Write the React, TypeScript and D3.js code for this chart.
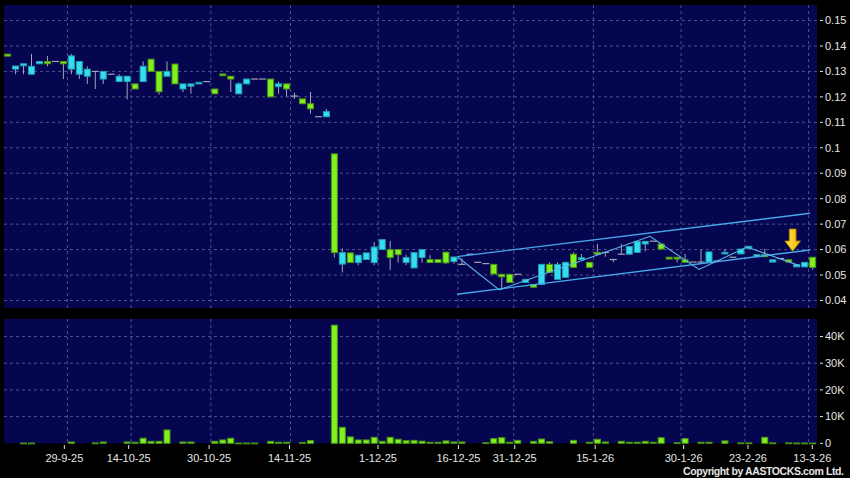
import React from 'react';
import * as d3 from 'd3';

const W = 850;
const H = 478;

// One entry per plotted session (slot 0..101)
const opens = [
  0.1368, 0.1309, 0.1322, 0.1289, 0.133, 0.1339, 0.1339, 0.1339, 0.1309, 0.1289,
  0.1281, 0.13, 0.127, 0.1289, 0.126, 0.126, 0.1251, 0.126, 0.1348, 0.13,
  0.1281, 0.1329, 0.1231, 0.1242, 0.1251, 0.126, 0.1231, 0.129, 0.1281, 0.1212,
  0.1251, 0.127, 0.127, 0.127, 0.124, 0.1251, 0.1203, 0.1192, 0.1173, 0.1122,
  0.1122, 0.0976, 0.0543, 0.0587, 0.0549, 0.0561, 0.0549, 0.06, 0.06, 0.06,
  0.0549, 0.0528, 0.0569, 0.0561, 0.0561, 0.059, 0.0553, 0.0542, 0.0582, 0.055,
  0.0545, 0.0542, 0.0503, 0.0503, 0.0503, 0.0471, 0.0463, 0.0463, 0.0542, 0.0483,
  0.0491, 0.0582, 0.0561, 0.055, 0.0589, 0.0589, 0.0561, 0.0582, 0.0582, 0.0589,
  0.0622, 0.0633, 0.0622, 0.057, 0.057, 0.056, 0.0551, 0.0551, 0.0551, 0.0555,
  0.0583, 0.057, 0.0583, 0.0604, 0.0572, 0.058, 0.0551, 0.0565, 0.056, 0.0532,
  0.0532, 0.057,
];
const closes = [
  0.136, 0.1321, 0.133, 0.132, 0.1339, 0.133, 0.1339, 0.133, 0.1361, 0.1339,
  0.1309, 0.13, 0.13, 0.1289, 0.1281, 0.1281, 0.1231, 0.132, 0.13, 0.122,
  0.13, 0.1251, 0.1251, 0.1251, 0.1257, 0.126, 0.1212, 0.1283, 0.127, 0.1251,
  0.127, 0.127, 0.127, 0.12, 0.1251, 0.1231, 0.1203, 0.1173, 0.1153, 0.1122,
  0.1142, 0.0588, 0.0588, 0.0549, 0.0578, 0.0587, 0.061, 0.0639, 0.0569, 0.058,
  0.0569, 0.0588, 0.06, 0.0549, 0.0549, 0.0548, 0.0571, 0.0542, 0.0582, 0.055,
  0.0545, 0.0504, 0.0493, 0.0471, 0.0503, 0.0483, 0.0452, 0.0542, 0.051, 0.0542,
  0.055, 0.053, 0.0568, 0.053, 0.0582, 0.0589, 0.0561, 0.0582, 0.0612, 0.0632,
  0.0632, 0.0633, 0.0602, 0.0563, 0.0563, 0.055, 0.0551, 0.0551, 0.0591, 0.0555,
  0.0589, 0.057, 0.0602, 0.0613, 0.058, 0.0572, 0.056, 0.0565, 0.0551, 0.0541,
  0.055, 0.053,
];
const highs = [
  0.1368, 0.1321, 0.133, 0.1369, 0.1339, 0.1361, 0.1339, 0.1339, 0.1369, 0.1339,
  0.132, 0.13, 0.13, 0.1289, 0.1289, 0.1281, 0.1251, 0.1339, 0.1348, 0.13,
  0.1339, 0.1329, 0.1251, 0.1251, 0.1257, 0.126, 0.1231, 0.129, 0.1281, 0.1257,
  0.127, 0.127, 0.127, 0.127, 0.126, 0.1251, 0.1216, 0.1192, 0.1219, 0.1122,
  0.1153, 0.0976, 0.0604, 0.0587, 0.0578, 0.0587, 0.063, 0.0639, 0.0634, 0.06,
  0.058, 0.0588, 0.06, 0.0578, 0.0561, 0.059, 0.0571, 0.0566, 0.0582, 0.055,
  0.0545, 0.0542, 0.0503, 0.0503, 0.0503, 0.0483, 0.0463, 0.0542, 0.055, 0.055,
  0.055, 0.0589, 0.0582, 0.055, 0.0622, 0.0589, 0.0561, 0.0622, 0.0612, 0.0632,
  0.0632, 0.0633, 0.0622, 0.057, 0.057, 0.0583, 0.0551, 0.06, 0.0591, 0.0555,
  0.0602, 0.057, 0.0602, 0.0613, 0.058, 0.0602, 0.056, 0.0565, 0.056, 0.0541,
  0.055, 0.057,
];
const lows = [
  0.136, 0.1289, 0.1289, 0.1289, 0.133, 0.132, 0.1339, 0.127, 0.1289, 0.127,
  0.1251, 0.1231, 0.1251, 0.1289, 0.126, 0.119, 0.1231, 0.126, 0.13, 0.1209,
  0.1281, 0.1251, 0.1219, 0.1212, 0.1251, 0.126, 0.1212, 0.1283, 0.1219, 0.1212,
  0.1251, 0.127, 0.127, 0.12, 0.1212, 0.12, 0.1192, 0.1173, 0.1134, 0.1122,
  0.1122, 0.0569, 0.051, 0.0549, 0.0539, 0.0561, 0.0539, 0.06, 0.0519, 0.0549,
  0.0539, 0.0528, 0.0549, 0.0549, 0.0549, 0.0543, 0.0545, 0.0542, 0.0582, 0.055,
  0.0545, 0.0504, 0.0442, 0.0471, 0.0503, 0.0471, 0.0452, 0.0463, 0.051, 0.0483,
  0.0491, 0.053, 0.0561, 0.053, 0.0582, 0.0572, 0.055, 0.0582, 0.0582, 0.0589,
  0.0593, 0.0633, 0.0602, 0.0563, 0.055, 0.055, 0.0551, 0.0545, 0.0551, 0.0555,
  0.0583, 0.057, 0.0583, 0.0604, 0.0572, 0.0572, 0.0551, 0.0565, 0.0551, 0.0532,
  0.0532, 0.0521,
];
const volumes = [
  0, 0, 100, 100, 0, 0, 0, 0, 500, 0,
  0, 150, 500, 0, 0, 500, 400, 1900, 750, 750,
  5000, 0, 500, 500, 0, 0, 750, 1250, 1900, 100,
  100, 100, 0, 750, 400, 400, 0, 300, 1000, 0,
  0, 44250, 6000, 2400, 1250, 1250, 2250, 750, 2250, 1500,
  1000, 1100, 800, 400, 400, 900, 500, 500, 0, 0,
  200, 1750, 2100, 400, 1100, 0, 750, 1600, 600, 0,
  0, 1100, 0, 400, 1500, 500, 0, 750, 400, 400,
  750, 400, 2100, 0, 200, 1750, 0, 400, 400, 0,
  900, 0, 150, 150, 0, 2250, 150, 0, 150, 100,
  100, 100,
];

const dateLabels = ['29-9-25', '14-10-25', '30-10-25', '14-11-25', '1-12-25', '16-12-25', '31-12-25', '15-1-26', '30-1-26', '23-2-26', '13-3-26'];
const dateSlots = [8, 16, 26, 36, 47, 57, 64, 74, 85, 93, 101];
const priceTicks = [0.04, 0.05, 0.06, 0.07, 0.08, 0.09, 0.1, 0.11, 0.12, 0.13, 0.14, 0.15];
const priceTickLabels = ['0.04', '0.05', '0.06', '0.07', '0.08', '0.09', '0.1', '0.11', '0.12', '0.13', '0.14', '0.15'];
const volumeTicks = [0, 10000, 20000, 30000, 40000];
const volumeTickLabels = ['0', '10K', '20K', '30K', '40K'];

// channel and zig-zag (slot, price)
const upperChannel: [number, number][] = [[56.39, 0.05725], [100.68, 0.07426]];
const lowerChannel: [number, number][] = [[56.39, 0.04244], [100.68, 0.05984]];
const zigzag: [number, number][] = [[56.51, 0.057], [61.69, 0.0442], [80.6, 0.0652], [86.75, 0.0522], [92.77, 0.061], [99.42, 0.0536]];
const arrowAt: [number, number] = [98.5, 0.0594];

const N = opens.length;

const PLOT_L = 4;
const PLOT_R = 817;
const MAIN_T = 5;
const MAIN_B = 308;
const VOL_T = 319;
const VOL_B = 443.3;

const CYAN = '#34def0';
const CYAN_S = '#1f9fb2';
const GREEN = '#80f01e';
const GREEN_S = '#4a9414';
const WICK = '#a4a4b8';
const GRID = '#50508c';
const TEXT = '#e4e4e4';
const FONT = '"Liberation Sans", Arial, sans-serif';

export default function App() {
  const xs = d3.scaleLinear().domain([0, N - 1]).range([7.6, 812.6]);
  const step = xs(1) - xs(0);
  const xTick = d3.scaleLinear().domain([0, N - 1]).range([0, 812.3]);
  const yP = d3.scaleLinear().domain([0.04, 0.15]).range([300.5, 20.5]);
  const yV = d3.scaleLinear().domain([0, 40000]).range([VOL_B, 336.5]);
  const line = d3
    .line<[number, number]>()
    .x((d) => xs(d[0]))
    .y((d) => yP(d[1]));

  const bw = 7;

  const [ax, ay] = [xs(arrowAt[0]), yP(arrowAt[1])];
  const arrowPts = [
    [ax - 3.3, ay - 22],
    [ax + 3.3, ay - 22],
    [ax + 3.3, ay - 10],
    [ax + 7.7, ay - 10],
    [ax, ay],
    [ax - 7.7, ay - 10],
    [ax - 3.3, ay - 10],
  ]
    .map((p) => p.join(','))
    .join(' ');

  return (
    <div style={{ position: 'fixed', left: 0, top: 0, width: W, height: H, background: '#000' }}>
      <svg width={W} height={H} style={{ display: 'block', background: '#000' }}>
        <defs>
          <clipPath id="mainClip">
            <rect x={PLOT_L} y={MAIN_T} width={PLOT_R - PLOT_L} height={MAIN_B - MAIN_T} />
          </clipPath>
          <linearGradient id="arrowGrad" x1="0" y1="0" x2="1" y2="0">
            <stop offset="0" stopColor="#ffe94a" />
            <stop offset="1" stopColor="#f2b400" />
          </linearGradient>
        </defs>
        {/* panels */}
        <rect x={PLOT_L} y={MAIN_T} width={PLOT_R - PLOT_L} height={MAIN_B - MAIN_T} fill="#060650" />
        <rect x={PLOT_L} y={VOL_T} width={PLOT_R - PLOT_L} height={VOL_B - VOL_T} fill="#060650" />

        {/* horizontal grid */}
        {priceTicks.map((p) => (
          <line key={'pg' + p} x1={PLOT_L} x2={PLOT_R} y1={yP(p)} y2={yP(p)} stroke={GRID} strokeDasharray="3,3" />
        ))}
        {volumeTicks.filter((v) => v > 0).map((v) => (
          <line key={'vg' + v} x1={PLOT_L} x2={PLOT_R} y1={yV(v)} y2={yV(v)} stroke={GRID} strokeDasharray="3,3" />
        ))}
        {/* vertical grid */}
        {dateSlots.map((s) => {
          const gx = xs(s) - step / 2;
          return (
            <g key={'vgx' + s}>
              <line x1={gx} x2={gx} y1={MAIN_T} y2={MAIN_B} stroke={GRID} strokeDasharray="3,3" />
              <line x1={gx} x2={gx} y1={VOL_T} y2={VOL_B} stroke={GRID} strokeDasharray="3,3" />
            </g>
          );
        })}

        {/* candles */}
        <g clipPath="url(#mainClip)">
          {opens.map((o, i) => {
            const c = closes[i];
            const h = highs[i];
            const l = lows[i];
            const cx = xs(i);
            if (o === c) {
              return (
                <g key={'c' + i}>
                  {h !== l && <line x1={cx} x2={cx} y1={yP(h)} y2={yP(l)} stroke={WICK} />}
                  <line x1={cx - bw / 2} x2={cx + bw / 2} y1={yP(o)} y2={yP(o)} stroke={WICK} strokeWidth={1.2} />
                </g>
              );
            }
            const up = c > o;
            const top = yP(Math.max(o, c));
            const bot = yP(Math.min(o, c));
            const hgt = Math.max(bot - top, 1.5);
            return (
              <g key={'c' + i}>
                <line x1={cx} x2={cx} y1={yP(h)} y2={yP(l)} stroke={WICK} />
                <rect
                  x={cx - bw / 2 + 0.5}
                  y={top}
                  width={bw - 1}
                  height={hgt}
                  fill={up ? CYAN : GREEN}
                  stroke={up ? CYAN_S : GREEN_S}
                  strokeWidth={1}
                />
              </g>
            );
          })}
          {/* channel lines */}
          <path d={line(upperChannel) || ''} fill="none" stroke="#45a8ec" strokeWidth={1.4} />
          <path d={line(lowerChannel) || ''} fill="none" stroke="#45a8ec" strokeWidth={1.4} />
          <path d={line(zigzag) || ''} fill="none" stroke="#5ab6e6" strokeWidth={1.1} />
          {/* arrow */}
          <polygon points={arrowPts} fill="url(#arrowGrad)" stroke="#c08a00" strokeWidth={1} />
        </g>

        {/* volume bars */}
        {volumes.map((v, i) =>
          v > 0 ? (
            <rect
              key={'v' + i}
              x={xs(i) - bw / 2 + 0.5}
              y={yV(v)}
              width={bw - 1}
              height={Math.max(VOL_B - yV(v), 0.8)}
              fill={GREEN}
              stroke={GREEN_S}
              strokeWidth={1}
            />
          ) : null
        )}

        {/* right axis: price */}
        {priceTicks.map((p, i) => (
          <g key={'pt' + p}>
            <line x1={820} x2={823} y1={yP(p)} y2={yP(p)} stroke={TEXT} />
            <text x={825} y={yP(p)} dy="0.35em" fill={TEXT} fontSize={11} fontFamily={FONT}>
              {priceTickLabels[i]}
            </text>
          </g>
        ))}
        {/* right axis: volume */}
        {volumeTicks.map((v, i) => (
          <g key={'vt' + v}>
            <line x1={820} x2={823} y1={yV(v)} y2={yV(v)} stroke={TEXT} />
            <text x={825} y={yV(v)} dy="0.35em" fill={TEXT} fontSize={11} fontFamily={FONT}>
              {volumeTickLabels[i]}
            </text>
          </g>
        ))}

        {/* date axis */}
        {dateSlots.map((s, i) => {
          const tx = xTick(s);
          return (
            <g key={'dt' + s}>
              <line x1={tx} x2={tx} y1={445} y2={449} stroke={TEXT} />
              <text x={tx} y={461.5} textAnchor="middle" fill={TEXT} fontSize={11} fontFamily={FONT}>
                {dateLabels[i]}
              </text>
            </g>
          );
        })}

        <text
          x={844}
          y={475}
          textAnchor="end"
          fill={TEXT}
          fontSize={10.5}
          fontWeight="bold"
          fontFamily={FONT}
          textLength={161}
          lengthAdjust="spacing"
        >
          Copyright by AASTOCKS.com Ltd.
        </text>
      </svg>
    </div>
  );
}
